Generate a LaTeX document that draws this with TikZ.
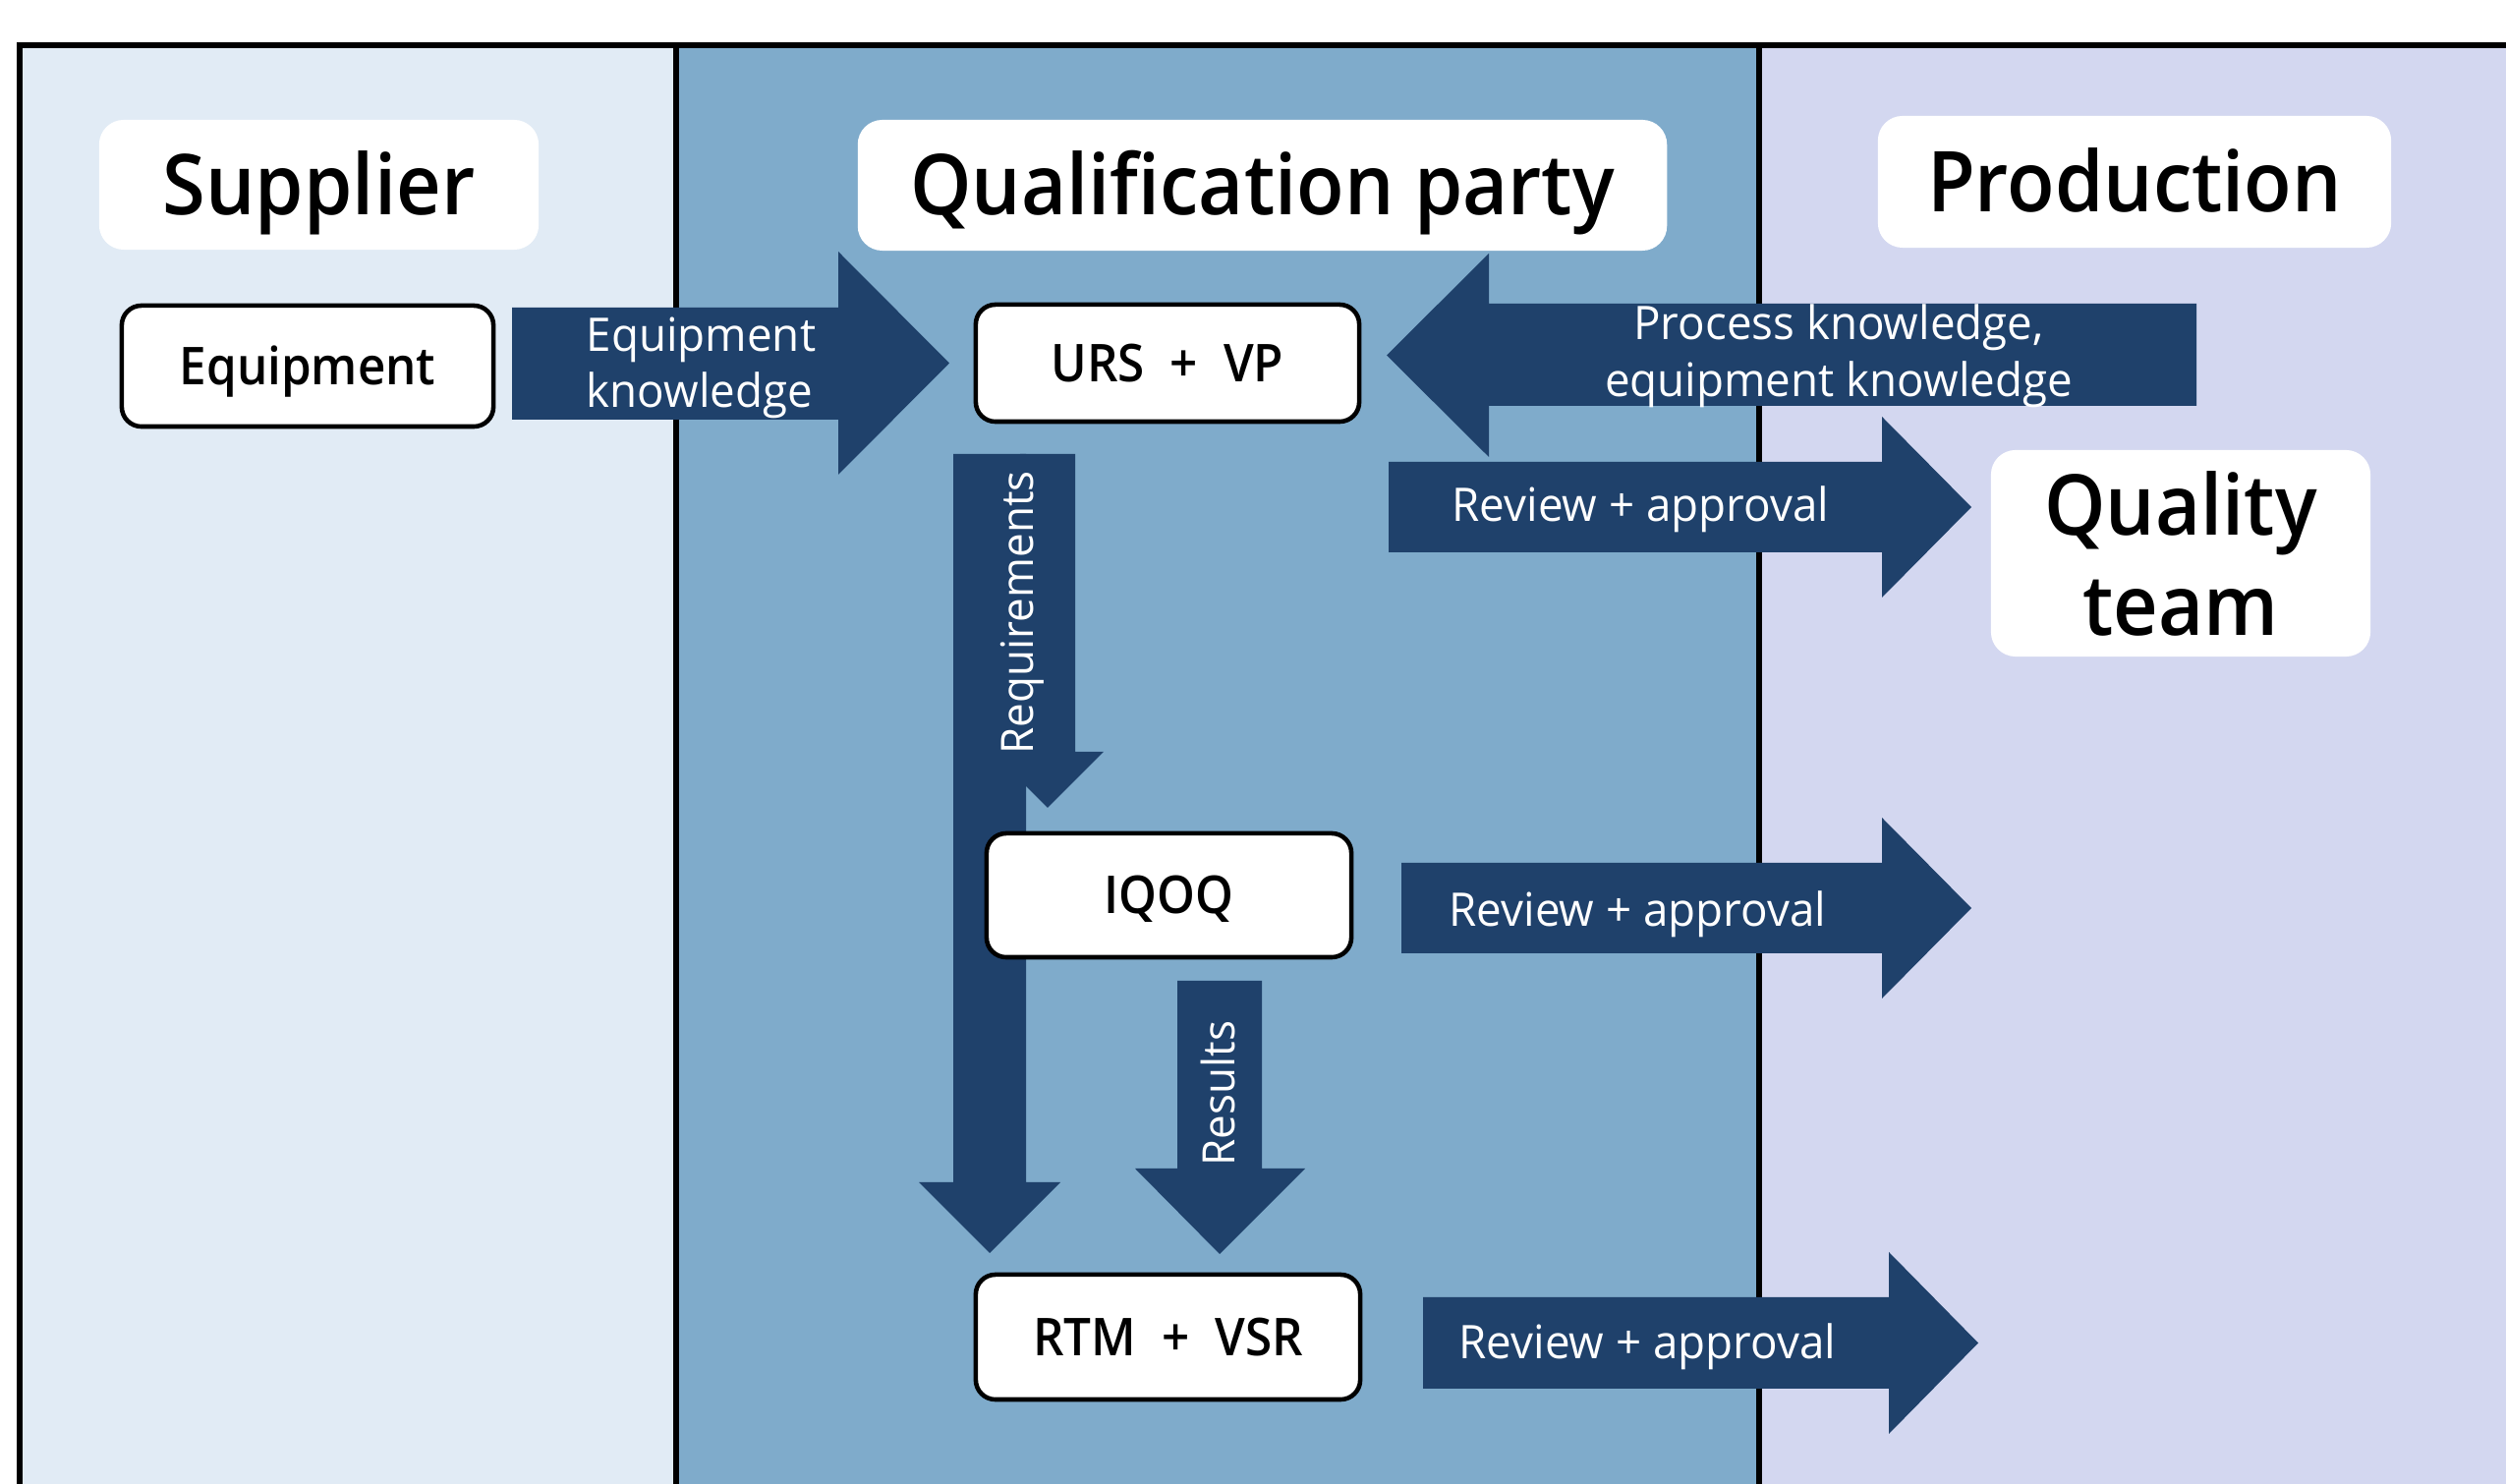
\documentclass[tikz,border=0pt]{standalone}
\usepackage{fontspec}
\setmainfont{Open Sans}[FakeStretch=0.97]
\IfFontExistsTF{Open Sans SemiBold}
  {\newfontfamily\sbf{Open Sans SemiBold}[FakeStretch=0.93]}
  {\IfFontExistsTF{Open Sans Semibold}
    {\newfontfamily\sbf{Open Sans Semibold}[FakeStretch=0.93]}
    {\newfontfamily\sbf{Open Sans}[UprightFont={* Bold},FakeStretch=0.90]}}
\newcommand\wsp{\hspace{0.49em}}
\definecolor{supc}{RGB}{225,235,245}
\definecolor{qualc}{RGB}{127,171,203}
\definecolor{prodc}{RGB}{211,215,240}
\definecolor{arrc}{RGB}{31,65,107}
\begin{document}
\begin{tikzpicture}[x=0.01cm,y=-0.01cm,
  frame/.style={draw=black,line width=1.7pt},
  arr/.style={fill=arrc},
  hdr/.style={fill=white,rounded corners=0.25cm,inner sep=0pt,
    font={\sbf\fontsize{24.3pt}{29pt}\selectfont}},
  hdrone/.style={hdr,text height=17.35pt,text depth=0pt},
  proc/.style={draw=black,line width=1.3pt,fill=white,rounded corners=0.2cm,inner sep=0pt,
    font={\sbf\fontsize{15.1pt}{17pt}\selectfont},text height=10.8pt,text depth=0pt},
  lbl/.style={text=white,inner sep=0pt,font={\fontsize{13.4pt}{16pt}\selectfont}},
  vlbl/.style={lbl,rotate=90,anchor=base west,font={\fontsize{12.9pt}{16pt}\selectfont}}]
\useasboundingbox (0,0) rectangle (2550,1510);
\clip (0,0) rectangle (2550,1510);
% lanes
\fill[supc] (20,46) rectangle (688,1600);
\fill[qualc] (688,46) rectangle (1790,1600);
\fill[prodc] (1790,46) rectangle (2600,1600);
\draw[frame] (20,1600) -- (20,46) -- (2600,46);
\draw[frame] (688,46) -- (688,1600);
\draw[frame] (1790,46) -- (1790,1600);
% headers
\node[hdrone,minimum width=4.47cm,minimum height=1.32cm] (sup) at (324.5,188) {Supplier};
\node[hdrone,minimum width=8.23cm,minimum height=1.33cm] (qual) at (1284.5,188.5) {Qualification party};
\node[hdrone,minimum width=5.22cm,minimum height=1.34cm] (prod) at (2172,185) {Production};
\node[hdr,minimum width=3.86cm,minimum height=2.10cm,align=center] (qt) at (2219,563) {Quality\\team};
% block arrows
\fill[arr] (521,313) -- (853,313) -- (853,256) -- (966,369.5) -- (853,483) -- (853,427) -- (521,427) -- cycle;
\fill[arr] (2235,309) -- (1515,309) -- (1515,258) -- (1411,361.5) -- (1515,465) -- (1515,413) -- (2235,413) -- cycle;
\fill[arr] (1413,470) -- (1915,470) -- (1915,424) -- (2006,516) -- (1915,608) -- (1915,562) -- (1413,562) -- cycle;
\fill[arr] (1426,878) -- (1915,878) -- (1915,832) -- (2006,924) -- (1915,1016) -- (1915,970) -- (1426,970) -- cycle;
\fill[arr] (1448,1320) -- (1922,1320) -- (1922,1274) -- (2013,1366.5) -- (1922,1459) -- (1922,1413) -- (1448,1413) -- cycle;
\fill[arr] (970,462) -- (1044,462) -- (1044,1203) -- (1079,1203) -- (1007,1275) -- (935,1203) -- (970,1203) -- cycle;
\fill[arr] (1038,462) -- (1094,462) -- (1094,765) -- (1123,765) -- (1066,822) -- (1009,765) -- (1038,765) -- cycle;
\fill[arr] (1198,998) -- (1284,998) -- (1284,1189) -- (1328,1189) -- (1241,1276) -- (1155,1189) -- (1198,1189) -- cycle;
% process boxes
\node[proc,minimum width=3.78cm,minimum height=1.23cm] (eq) at (313,372.5) {Equipment};
\node[proc,minimum width=3.90cm,minimum height=1.19cm] (urs) at (1188,369.5) {URS\wsp+\wsp VP};
\node[proc,minimum width=3.71cm,minimum height=1.26cm] (iqoq) at (1189.5,911) {IQOQ};
\node[proc,minimum width=3.91cm,minimum height=1.27cm] (rtm) at (1188.5,1360.5) {RTM\wsp+\wsp VSR};
% arrow labels
\node[lbl,anchor=base west] (ek1) at (596,358) {Equipment};
\node[lbl,anchor=base west] (ek2) at (596,415) {knowledge};
\node[lbl,anchor=base] (pk1) at (1871,346) {Process knowledge,};
\node[lbl,anchor=base] (pk2) at (1871,404) {equipment knowledge};
\node[lbl,anchor=base west] (ra1) at (1477,531) {Review + approval};
\node[lbl,anchor=base west] (ra2) at (1474,943) {Review + approval};
\node[lbl,anchor=base west] (ra3) at (1484,1383) {Review + approval};
\node[vlbl] (req) at (1051,768) {Requirements};
\node[vlbl] (res) at (1256,1187) {Results};
\end{tikzpicture}
\end{document}
